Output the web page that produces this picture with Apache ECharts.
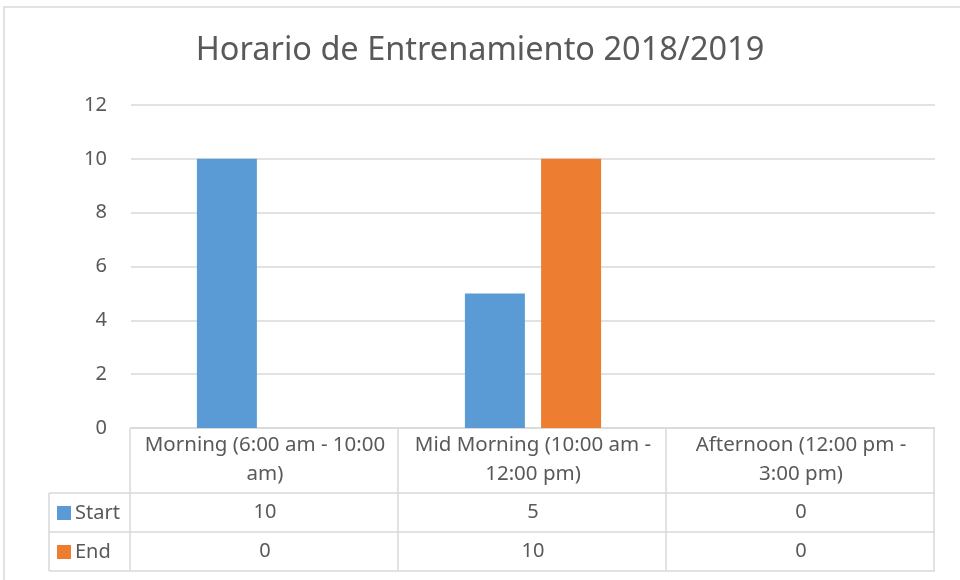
<!DOCTYPE html>
<html>
<head>
<meta charset="utf-8">
<script src="https://cdn.jsdelivr.net/npm/echarts@6/dist/echarts.min.js"></script>
<style>
    html, body { margin: 0; padding: 0; background: #fff; }
    #chart { width: 960px; height: 580px; }
</style>
</head>
<body>
<div id="chart"></div>
<script>
const titleText = 'Horario de Entrenamiento 2018/2019'
const categories = ['Morning (6:00 am - 10:00 am)', 'Mid Morning (10:00 am - 12:00 pm)', 'Afternoon (12:00 pm - 3:00 pm)']
const categoryLabels = ['Morning (6:00 am - 10:00\nam)', 'Mid Morning (10:00 am -\n12:00 pm)', 'Afternoon (12:00 pm -\n3:00 pm)']
const seriesNames = ['Start', 'End']
const startValues = [10, 5, 0]
const endValues = [0, 10, 0]
const yTicks = [0, 2, 4, 6, 8, 10, 12]

const colors = ['#5b9bd5', '#ed7d31']
const textColor = '#595959'
const lineColor = '#d9d9d9'
const font = 'Noto Sans'

// layout of the plot and of the data table under it
const gridLeft = 131
const gridRight = 935
const gridTop = 105
const gridBottom = 428
const headRow = 65
const rowH = 39
const tableLeft = 49
const colW = (gridRight - gridLeft) / categories.length

const chart = echarts.init(document.getElementById('chart'))

function tableLines() {
    const lines = []
    const yHead = gridBottom + headRow
    const yStart = yHead + rowH
    const yEnd = yStart + rowH
    const h = (x1, x2, y) => lines.push({ type: 'line', shape: { x1, y1: y, x2, y2: y } })
    const v = (x, y1, y2) => lines.push({ type: 'line', shape: { x1: x, y1, x2: x, y2 } })
    h(gridLeft - 1, gridRight, gridBottom)
    h(tableLeft, gridRight, yHead)
    h(tableLeft, gridRight, yStart)
    h(tableLeft, gridRight, yEnd)
    v(tableLeft, yHead, yEnd)
    for (let i = 0; i <= categories.length; i++) {
        v(Math.round(gridLeft - 1 + colW * i), gridBottom, yEnd)
    }
    return lines.map(l => Object.assign(l, {
        style: { stroke: lineColor, lineWidth: 1.5 },
        silent: true
    }))
}

const valueAxis = (values, offset) => ({
    type: 'category',
    data: categories,
    position: 'bottom',
    offset,
    axisLine: { show: false },
    axisTick: { show: false },
    axisLabel: {
        interval: 0,
        margin: 0,
        color: textColor,
        fontFamily: font,
        fontSize: 20,
        lineHeight: rowH,
        verticalAlign: 'top',
        formatter: (val, idx) => String(values[idx])
    }
})

chart.setOption({
    animation: false,
    title: {
        text: titleText,
        left: 'center',
        top: 29,
        textStyle: { color: textColor, fontFamily: font, fontSize: 32.5, fontWeight: 'normal' }
    },
    legend: {
        data: seriesNames,
        orient: 'vertical',
        left: 57,
        top: gridBottom + headRow + 9,
        padding: 0,
        icon: 'rect',
        itemWidth: 14,
        itemHeight: 14,
        itemGap: rowH - 22,
        textStyle: { color: textColor, fontFamily: font, fontSize: 20, lineHeight: 22, padding: [0, 0, 0, -1] }
    },
    grid: {
        left: gridLeft,
        right: 960 - gridRight,
        top: gridTop,
        bottom: 580 - gridBottom
    },
    xAxis: [
        {
            type: 'category',
            data: categories,
            axisLine: { show: false },
            axisTick: { show: false },
            axisLabel: {
                interval: 0,
                margin: 3,
                color: textColor,
                fontFamily: font,
                fontSize: 20.5,
                lineHeight: 29,
                verticalAlign: 'top',
                formatter: (val, idx) => categoryLabels[idx]
            }
        },
        valueAxis(startValues, headRow),
        valueAxis(endValues, headRow + rowH)
    ],
    yAxis: {
        type: 'value',
        min: yTicks[0],
        max: yTicks[yTicks.length - 1],
        interval: 2,
        axisLine: { show: false },
        axisTick: { show: false },
        axisLabel: { color: textColor, fontFamily: font, fontSize: 20, margin: 24 },
        splitLine: { lineStyle: { color: lineColor, width: 1.5 } }
    },
    series: [
        {
            name: seriesNames[0],
            type: 'bar',
            data: startValues,
            barWidth: 60,
            barGap: '27%',
            itemStyle: { color: colors[0] }
        },
        {
            name: seriesNames[1],
            type: 'bar',
            data: endValues,
            barWidth: 60,
            itemStyle: { color: colors[1] }
        }
    ],
    graphic: [
        {
            type: 'rect',
            shape: { x: 4, y: 7, width: 1000, height: 700 },
            style: { fill: 'none', stroke: lineColor, lineWidth: 1.5 },
            silent: true
        },
        ...tableLines()
    ]
})
</script>
</body>
</html>
